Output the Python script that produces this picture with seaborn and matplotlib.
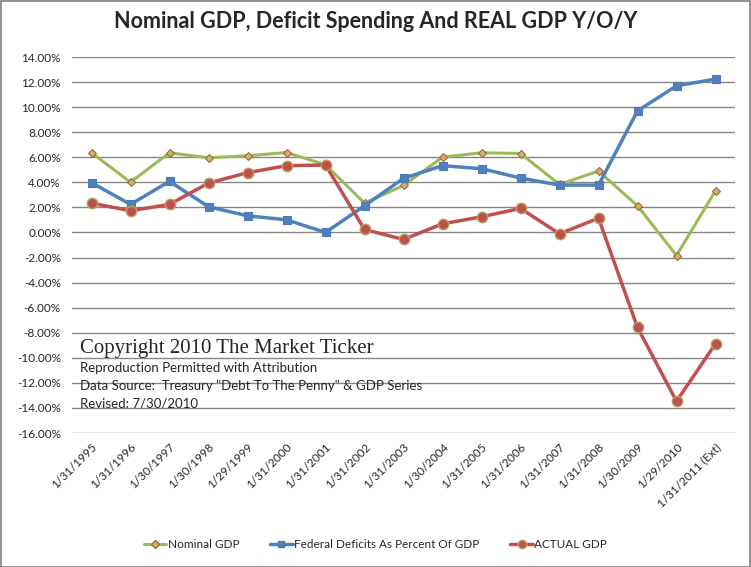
import matplotlib
matplotlib.use("Agg")
import matplotlib.pyplot as plt
import seaborn as sns
import numpy as np
import pandas as pd
from matplotlib.lines import Line2D
from matplotlib.patches import Rectangle
from matplotlib.ticker import FuncFormatter

dates = ["1/31/1995", "1/31/1996", "1/30/1997", "1/30/1998", "1/29/1999",
         "1/31/2000", "1/31/2001", "1/31/2002", "1/31/2003", "1/30/2004",
         "1/31/2005", "1/31/2006", "1/31/2007", "1/31/2008", "1/30/2009",
         "1/29/2010", "1/31/2011 (Ext)"]
nominal_gdp = [6.36, 4.01, 6.36, 5.96, 6.12, 6.38, 5.40, 2.34, 3.75, 6.01,
               6.36, 6.30, 3.83, 4.90, 2.13, -1.84, 3.33]
federal_deficits = [3.97, 2.24, 4.08, 2.05, 1.33, 1.01, 0.0, 2.13, 4.32, 5.33,
                    5.09, 4.34, 3.78, 3.78, 9.70, 11.70, 12.24]
actual_gdp = [2.34, 1.73, 2.24, 3.94, 4.77, 5.33, 5.38, 0.24, -0.56, 0.69,
              1.25, 1.92, -0.11, 1.14, -7.58, -13.47, -8.88]

GREEN = "#9BBB59"
BLUE = "#4F81BD"
RED = "#C0504D"

sns.set_theme(style="white")
plt.rcParams["font.family"] = ["Lato", "DejaVu Sans"]

W, H = 751, 567
fig = plt.figure(figsize=(W / 100, H / 100), dpi=100)
ax = fig.add_axes([72 / W, 1 - 433 / H, (735 - 72) / W, (433 - 57) / H])

idx = np.arange(len(dates))
df = pd.DataFrame({"idx": idx, "nom": nominal_gdp, "fed": federal_deficits, "act": actual_gdp})

sns.lineplot(data=df, x="idx", y="nom", ax=ax, color=GREEN, lw=2.2,
             marker="D", markersize=4.5, markerfacecolor="#C4B96A",
             markeredgecolor="#B0603A", markeredgewidth=0.8, zorder=3)
sns.lineplot(data=df, x="idx", y="fed", ax=ax, color=BLUE, lw=2.5,
             marker="s", markersize=6.2, markerfacecolor=BLUE,
             markeredgecolor="#4A7BB5", markeredgewidth=0.8, zorder=4)
sns.lineplot(data=df, x="idx", y="act", ax=ax, color=RED, lw=2.5,
             marker="o", markersize=7.5, markerfacecolor=RED,
             markeredgecolor="#B8A060", markeredgewidth=1.0, zorder=5)

ax.set_xlim(-0.5, len(dates) - 0.5)
ax.set_ylim(-16, 14)
ax.set_yticks(np.arange(-16, 15, 2))
ax.yaxis.set_major_formatter(FuncFormatter(lambda v, p: f"{v:.2f}%"))
ax.set_xticks(idx)
ax.set_xticklabels(dates, rotation=45, ha="right", rotation_mode="anchor", fontsize=8.5)
ax.tick_params(axis="y", labelsize=8.5, length=0, pad=8)
ax.tick_params(axis="x", length=0, pad=6)
ax.set_xlabel("")
ax.set_ylabel("")
ax.grid(axis="y", color="#868686", lw=1.0)
ax.grid(axis="x", visible=False)
ax.set_axisbelow(True)
for s in ax.spines.values():
    s.set_visible(False)

fig.text(376 / W, 1 - 22 / H, "Nominal GDP, Deficit Spending And REAL GDP Y/O/Y",
         ha="center", va="center", fontsize=15.5, fontweight="bold")

fig.text(80 / W, 1 - 348 / H, "Copyright 2010 The Market Ticker",
         ha="left", va="center", fontsize=15, family=["Liberation Serif"])
fig.text(80 / W, 1 - 368 / H, "Reproduction Permitted with Attribution",
         ha="left", va="center", fontsize=9.5)
fig.text(80 / W, 1 - 386 / H, 'Data Source:  Treasury "Debt To The Penny" & GDP Series',
         ha="left", va="center", fontsize=9.5)
fig.text(80 / W, 1 - 404 / H, "Revised: 7/30/2010",
         ha="left", va="center", fontsize=9.5)

handles = [
    Line2D([], [], color=GREEN, lw=2.2, marker="D", markersize=4,
           markerfacecolor="#C4B96A", markeredgecolor="#B0603A"),
    Line2D([], [], color=BLUE, lw=2.5, marker="s", markersize=5,
           markerfacecolor=BLUE, markeredgecolor="#4A7BB5"),
    Line2D([], [], color=RED, lw=2.5, marker="o", markersize=6,
           markerfacecolor=RED, markeredgecolor="#B8A060"),
]
labels = ["Nominal GDP", "Federal Deficits As Percent Of GDP", "ACTUAL GDP"]
fig.legend(handles, labels, loc="center", bbox_to_anchor=(0.5, 1 - 545 / H),
           ncol=3, frameon=False, fontsize=8.5, handlelength=1.9,
           handletextpad=0.15, columnspacing=2.6)

fig.patches.append(Rectangle((0.5 / W, 0.5 / H), 1 - 1.5 / W, 1 - 1.5 / H,
                             transform=fig.transFigure, fill=False,
                             edgecolor="#7f7f7f", lw=1.2))

fig.savefig("out.png", dpi=100)
